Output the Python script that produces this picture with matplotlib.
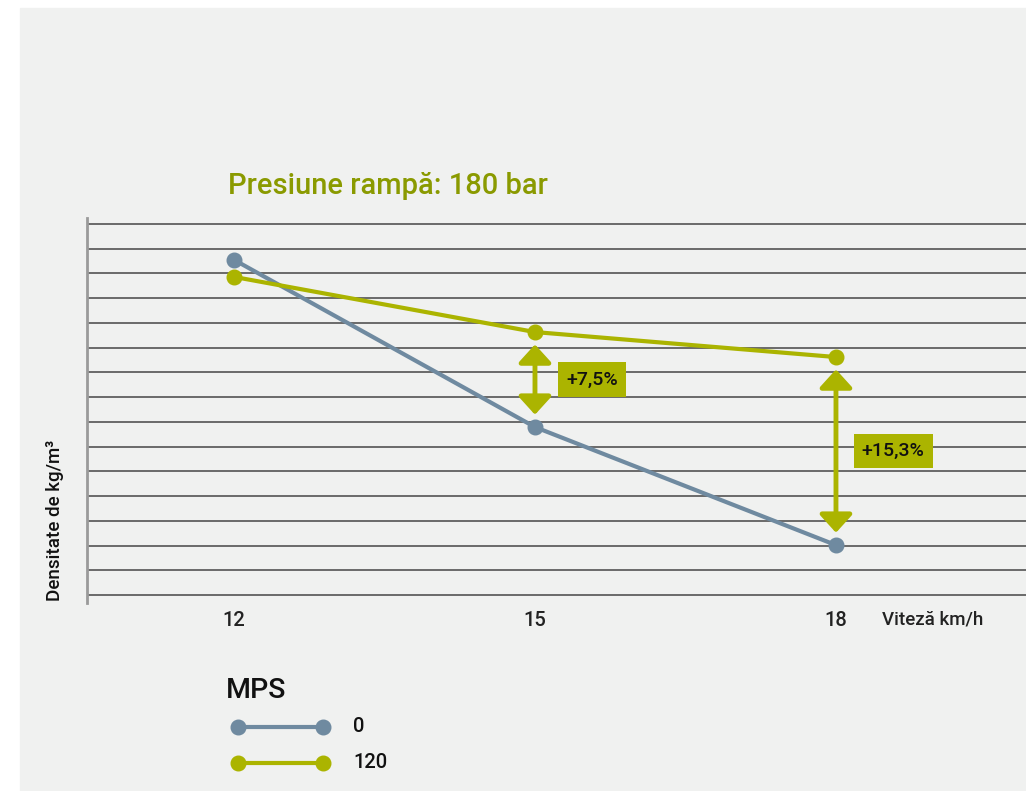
import matplotlib.pyplot as plt
import matplotlib.patches as patches
from matplotlib.lines import Line2D

plt.rcParams['font.family'] = ['Roboto', 'DejaVu Sans']

# data (in grid units)
speeds = [12, 15, 18]
mps_0 = [13.55, 6.79, 2.02]
mps_120 = [12.86, 10.63, 9.62]
series_labels = ['0', '120']
gains = {15: '+7,5%', 18: '+15,3%'}
title = 'Presiune rampă: 180 bar'
ylabel = 'Densitate de kg/m³'
xlabel = 'Viteză km/h'

grey = '#6f8aa0'
green = '#abb400'
title_green = '#8a9a00'
bg = '#f0f1f0'

fig = plt.figure(figsize=(10.26, 7.91), dpi=100)
fig.patches.append(patches.Rectangle((20/1026, 0.0), 1 - 20/1026, 1 - 8/791,
                                     transform=fig.transFigure, color=bg, zorder=-10))

ax = fig.add_axes([87/1026, 1 - 603/791, 1 - 87/1026, (603 - 218)/791])
ax.set_facecolor('none')
ax.set_xlim(10.535, 19.894)
ax.set_ylim(-0.32, 15.24)

for y in range(16):
    ax.axhline(y, color='#6a6a6a', lw=1.4, zorder=1)

for s in ['top', 'right', 'bottom']:
    ax.spines[s].set_visible(False)
ax.spines['left'].set_color('#9a9a9a')
ax.spines['left'].set_linewidth(2)

ax.set_yticks([])
ax.set_xticks(speeds)
ax.set_xticklabels([str(s) for s in speeds], fontsize=14.5, fontweight='medium', color='#222222')
ax.tick_params(axis='x', length=0, pad=6)

ax.plot(speeds, mps_0, color=grey, lw=3, marker='o', ms=10.5, zorder=3, solid_capstyle='round')
ax.plot(speeds, mps_120, color=green, lw=3, marker='o', ms=10.5, zorder=4, solid_capstyle='round')

for x, txt in gains.items():
    i = speeds.index(x)
    lo, hi = mps_0[i], mps_120[i]
    ax.annotate('', xy=(x, hi - 0.5), xytext=(x, lo + 0.5),
                arrowprops=dict(arrowstyle='<|-|>,head_length=0.55,head_width=0.5',
                                color=green, lw=3.5, shrinkA=0, shrinkB=0,
                                mutation_scale=20), zorder=5)
    ax.text(x + 0.57, (lo + hi) / 2, txt, fontsize=14, fontweight='medium', color='#111111',
            ha='center', va='center', zorder=6,
            bbox=dict(boxstyle='square,pad=0.42', fc=green, ec='none'))

fig.text(228/1026, 1 - 186/791, title, fontsize=21, fontweight='medium',
         color=title_green, ha='left', va='center')
fig.text(55/1026, 1 - 520/791, ylabel, fontsize=13.5, fontweight='medium',
         color='#111111', rotation=90, ha='center', va='center')
fig.text(882/1026, 1 - 620/791, xlabel, fontsize=13.5, fontweight='medium',
         color='#222222', ha='left', va='center')

# legend drawn by hand
fig.text(226/1026, 1 - 690/791, 'MPS', fontsize=20.5, fontweight='medium',
         color='#111111', ha='left', va='center')
for yy, col, lab in [(727, grey, series_labels[0]), (763, green, series_labels[1])]:
    fig.lines.append(Line2D([238/1026, 323/1026], [1 - yy/791, 1 - yy/791],
                            transform=fig.transFigure, color=col, lw=3,
                            marker='o', ms=10.5))
    fig.text(353/1026, 1 - yy/791, lab, fontsize=14.5, fontweight='medium',
             color='#111111', ha='left', va='center')

plt.savefig('out.png', dpi=100)
